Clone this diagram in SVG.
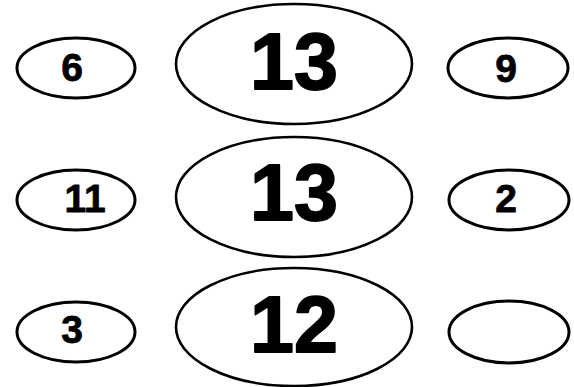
<svg xmlns="http://www.w3.org/2000/svg" width="574" height="387" viewBox="0 0 574 387">
<style>
.e{fill:none;stroke:#000;stroke-width:3}
.b{stroke-width:2.6}
.t{font-family:"Liberation Sans",Arial,sans-serif;font-weight:bold;text-anchor:middle;fill:#000;stroke:#000;stroke-linejoin:round}
.s{font-size:39px;stroke-width:0.8}
.l{font-size:79px;stroke-width:1.8}
</style>
<rect width="574" height="387" fill="#fff"/>
<g id="n6"><ellipse class="e" cx="76" cy="68" rx="59" ry="30"/><text class="t s" x="72" y="81">6</text></g>
<g id="n13a"><ellipse class="e b" cx="294" cy="64" rx="118" ry="60"/><text class="t l" x="294" y="89">13</text></g>
<g id="n9"><ellipse class="e" cx="508" cy="68" rx="60" ry="30"/><text class="t s" x="506" y="82">9</text></g>
<g id="n11"><ellipse class="e" cx="76" cy="200" rx="59" ry="30"/><text class="t s" x="85" y="212">11</text></g>
<g id="n13b"><ellipse class="e b" cx="294" cy="197" rx="118" ry="60"/><text class="t l" x="294" y="220">13</text></g>
<g id="n2"><ellipse class="e" cx="509" cy="200" rx="60" ry="30"/><text class="t s" x="506" y="212">2</text></g>
<g id="n3"><ellipse class="e" cx="76" cy="332" rx="59" ry="30"/><text class="t s" x="72" y="343">3</text></g>
<g id="n12"><ellipse class="e b" cx="294" cy="327" rx="118" ry="59"/><text class="t l" x="294" y="352">12</text></g>
<g id="nblank"><ellipse class="e" cx="509" cy="332" rx="60" ry="31"/></g>
<g id="connectors"/>
</svg>
